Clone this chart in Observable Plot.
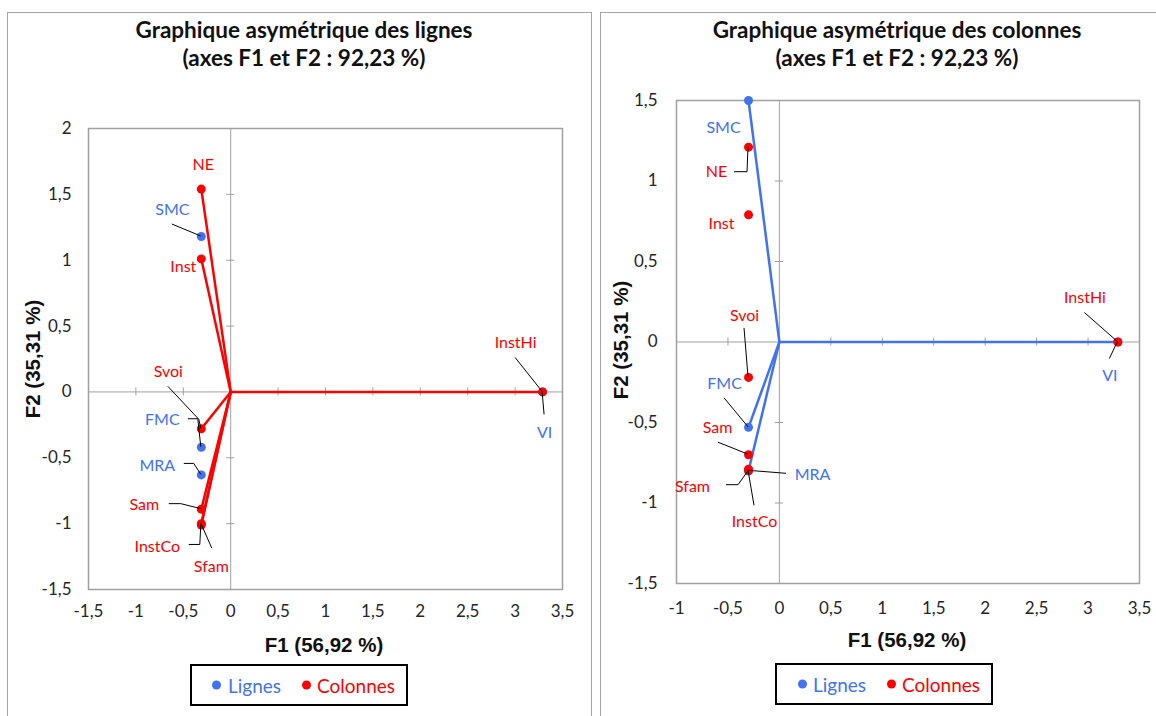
<!DOCTYPE html>
<html>
<head>
<meta charset="utf-8">
<script src="https://cdn.jsdelivr.net/npm/d3@7"></script>
<script src="https://cdn.jsdelivr.net/npm/@observablehq/plot@0.6"></script>
<style>
  html, body { margin: 0; padding: 0; background: #fff; }
  #wrap { position: relative; width: 1156px; height: 716px; overflow: hidden; background: #fff; }
  .panel { position: absolute; border: 1px solid #a6a6a6; box-sizing: border-box; }
  .title { position: absolute; text-align: center; font-family: Lato, "Open Sans", sans-serif; font-weight: 700; font-size: 22.5px; line-height: 28px; color: #111; white-space: nowrap; transform: translateX(-50%); }
  .axtitle { position: absolute; font-family: "Liberation Sans", Arial, sans-serif; font-weight: 700; font-size: 20.5px; color: #111; white-space: nowrap; transform: translate(-50%, -50%); }
  .axtitle.rot { transform: translate(-50%, -50%) rotate(-90deg); }
  .legend { position: absolute; border: 2px solid #000; box-sizing: border-box; background: #fff; font-family: Lato, "Open Sans", sans-serif; font-size: 19px; }
  .legend span { position: absolute; top: 50%; transform: translateY(-50%); white-space: nowrap; }
  .legend .dot { width: 9px; height: 9px; border-radius: 50%; }
  .chart { position: absolute; }
</style>
</head>
<body>
<div id="wrap">
  <div class="panel" style="left:7px; top:12px; width:585px; height:720px;"></div>
  <div class="panel" style="left:600px; top:12px; width:580px; height:720px;"></div>
  <div id="chartL" class="chart" style="left:0px; top:0px;"></div>
  <div id="chartR" class="chart" style="left:600px; top:0px;"></div>
  <div class="title" style="left:304px; top:16px;">Graphique asymétrique des lignes<br>(axes F1 et F2 : 92,23 %)</div>
  <div class="title" style="left:897px; top:16px;">Graphique asymétrique des colonnes<br>(axes F1 et F2 : 92,23 %)</div>
  <div class="axtitle" style="left:324px; top:645px;">F1 (56,92 %)</div>
  <div class="axtitle rot" style="left:33px; top:359px;">F2 (35,31 %)</div>
  <div class="axtitle" style="left:907px; top:640px;">F1 (56,92 %)</div>
  <div class="axtitle rot" style="left:621px; top:340px;">F2 (35,31 %)</div>
  <div class="legend" style="left:190px; top:664px; width:218px; height:42px;">
    <span class="dot" style="left:20px; background:#4272f0;"></span>
    <span style="left:36px; color:#4272f0;">Lignes</span>
    <span class="dot" style="left:110px; background:#ff0000;"></span>
    <span style="left:125px; color:#ff0000;">Colonnes</span>
  </div>
  <div class="legend" style="left:775px; top:663px; width:218px; height:42px;">
    <span class="dot" style="left:21px; background:#4272f0;"></span>
    <span style="left:36px; color:#4272f0;">Lignes</span>
    <span class="dot" style="left:110px; background:#ff0000;"></span>
    <span style="left:125px; color:#ff0000;">Colonnes</span>
  </div>
</div>
<script>
// ---------- DATA ----------
// Rows (Lignes)
const rowNames = ["SMC", "FMC", "MRA", "VI"];
// Columns (Colonnes)
const colNames = ["NE", "Inst", "Svoi", "Sam", "InstCo", "Sfam", "InstHi"];

// Left chart: Graphique asymétrique des lignes
const rowF1_lignes = [-0.31, -0.31, -0.31, 3.29];
const rowF2_lignes = [1.18, -0.42, -0.63, 0];
const colF1_lignes = [-0.31, -0.31, -0.31, -0.31, -0.31, -0.31, 3.29];
const colF2_lignes = [1.54, 1.01, -0.28, -0.89, -1.01, -1.00, 0];

// Right chart: Graphique asymétrique des colonnes
const rowF1_colonnes = [-0.30, -0.30, -0.30, 3.29];
const rowF2_colonnes = [1.50, -0.53, -0.80, 0];
const colF1_colonnes = [-0.30, -0.30, -0.30, -0.30, -0.30, -0.30, 3.29];
const colF2_colonnes = [1.21, 0.79, -0.22, -0.70, -0.80, -0.79, 0];

// Tick values
const xTicksL = [-1.5, -1, -0.5, 0, 0.5, 1, 1.5, 2, 2.5, 3, 3.5];
const yTicksL = [-1.5, -1, -0.5, 0, 0.5, 1, 1.5, 2];
const xTicksR = [-1, -0.5, 0, 0.5, 1, 1.5, 2, 2.5, 3, 3.5];
const yTicksR = [-1.5, -1, -0.5, 0, 0.5, 1, 1.5];

// ---------- STYLE (label placement in pixels) ----------
const BLUE = "#4272f0", RED = "#ff0000";
const labelsL = {
  NE: {dx: 2, dy: -24},
  SMC: {dx: -29, dy: -27, leader: [[-29, -12], [0, 0]]},
  Inst: {dx: -18, dy: 8},
  Svoi: {dx: -33, dy: -57, leader: [[-33, -42], [-2, -9], [0, 0]]},
  FMC: {dx: -39, dy: -27, leader: [[-13, -28], [-3, -28], [0, 0]]},
  MRA: {dx: -44, dy: -9, leader: [[-17, -11], [-7, -11], [0, 0]]},
  Sam: {dx: -57, dy: -4, leader: [[-32, -5], [-20, -5], [0, 0]]},
  InstCo: {dx: -44, dy: 22, leader: [[-12, 20], [-1, 20], [0, 0]]},
  Sfam: {dx: 10, dy: 43, leader: [[11, 25], [0, 0]]},
  InstHi: {dx: -27, dy: -49, leader: [[-27, -34], [0, 0]]},
  VI: {dx: 2, dy: 41, leader: [[2, 23], [0, 0]]}
};
const labelsR = {
  SMC: {dx: -25, dy: 27},
  NE: {dx: -32, dy: 25, leader: [[-14, 25], [-1, 25], [0, 0]]},
  Inst: {dx: -27, dy: 9},
  Svoi: {dx: -4, dy: -62, leader: [[-4, -49], [0, 0]]},
  FMC: {dx: -24, dy: -43, leader: [[-24, -29], [0, 0]]},
  Sam: {dx: -31, dy: -27, leader: [[-30, -12], [0, 0]]},
  MRA: {dx: 64, dy: 4, leader: [[38, 3], [0, 0]]},
  Sfam: {dx: -56, dy: 18, leader: [[-22, 16], [-10, 16], [0, 2]]},
  InstCo: {dx: 6, dy: 51, leader: [[6, 35], [0, 0]]},
  InstHi: {dx: -33, dy: -44, leader: [[-33, -29], [0, 0]]},
  VI: {dx: -8, dy: 34, leader: [[-8, 17], [0, 0]]}
};

const fmt = d => String(d).replace(".", ",");

function makeChart(cfg) {
  const rows = rowNames.map((name, i) => ({name, x: cfg.rowF1[i], y: cfg.rowF2[i], color: BLUE}));
  const cols = colNames.map((name, i) => ({name, x: cfg.colF1[i], y: cfg.colF2[i], color: RED}));
  const vecs = cfg.vectors === "cols" ? cols : rows;
  const vecColor = cfg.vectors === "cols" ? RED : BLUE;
  const all = [...rows, ...cols];

  const marks = [
    Plot.ruleX([0], {stroke: "#a0a0a0", strokeWidth: 1}),
    Plot.ruleY([0], {stroke: "#a0a0a0", strokeWidth: 1}),
    Plot.ruleX(cfg.xTicks.filter(d => d !== 0), {x: d => d, y1: 0, y2: 0, insetTop: -4, insetBottom: -4, stroke: "#a0a0a0"}),
    Plot.ruleY(cfg.yTicks.filter(d => d !== 0), {y: d => d, x1: 0, x2: 0, insetLeft: -4, insetRight: -4, stroke: "#a0a0a0"}),
    Plot.frame({stroke: "#a0a0a0", strokeWidth: 1.5}),
    Plot.link(vecs, {x1: 0, y1: 0, x2: "x", y2: "y", stroke: vecColor, strokeWidth: 2.5}),
    Plot.dot(rows, {x: "x", y: "y", r: 4.5, fill: BLUE}),
    Plot.dot(cols, {x: "x", y: "y", r: 4.5, fill: RED}),
    ...all.map(d => Plot.text([d], {x: "x", y: "y", text: "name", fill: d.color, fontSize: 16,
      dx: cfg.labels[d.name].dx, dy: cfg.labels[d.name].dy}))
  ];

  const chart = Plot.plot({
    width: cfg.width, height: cfg.height,
    marginLeft: cfg.ml, marginRight: cfg.mr, marginTop: cfg.mt, marginBottom: cfg.mb,
    style: {background: "transparent", fontFamily: "Lato, 'Open Sans', sans-serif", fontSize: "17px", color: "#262626", overflow: "visible"},
    x: {domain: cfg.xDomain, ticks: cfg.xTicks, tickFormat: fmt, tickSize: 0, tickPadding: cfg.xPad, label: null},
    y: {domain: cfg.yDomain, ticks: cfg.yTicks, tickFormat: fmt, tickSize: 0, tickPadding: cfg.yPad, label: null},
    marks
  });

  // Leader lines drawn with the plot's own scales
  const sx = chart.scale("x"), sy = chart.scale("y");
  const ax = v => sx.apply ? sx.apply(v) : sx.range[0] + (v - sx.domain[0]) / (sx.domain[1] - sx.domain[0]) * (sx.range[1] - sx.range[0]);
  const ay = v => sy.apply ? sy.apply(v) : sy.range[0] + (v - sy.domain[0]) / (sy.domain[1] - sy.domain[0]) * (sy.range[1] - sy.range[0]);
  const g = d3.select(chart).append("g").attr("fill", "none").attr("stroke", "#000").attr("stroke-width", 1);
  all.forEach(d => {
    const L = cfg.labels[d.name].leader;
    if (!L) return;
    const px = ax(d.x), py = ay(d.y);
    g.append("polyline").attr("points", L.map(([ox, oy]) => `${px + ox},${py + oy}`).join(" "));
  });
  return chart;
}

document.getElementById("chartL").appendChild(makeChart({
  rowF1: rowF1_lignes, rowF2: rowF2_lignes, colF1: colF1_lignes, colF2: colF2_lignes,
  vectors: "cols", labels: labelsL,
  xDomain: [-1.5, 3.5], yDomain: [-1.5, 2], xTicks: xTicksL, yTicks: yTicksL,
  width: 596, height: 640, ml: 88, mr: 34, mt: 128, mb: 51, xPad: 15, yPad: 17
}));
document.getElementById("chartR").appendChild(makeChart({
  rowF1: rowF1_colonnes, rowF2: rowF2_colonnes, colF1: colF1_colonnes, colF2: colF2_colonnes,
  vectors: "rows", labels: labelsR,
  xDomain: [-1, 3.5], yDomain: [-1.5, 1.5], xTicks: xTicksR, yTicks: yTicksR,
  width: 556, height: 640, ml: 76, mr: 17, mt: 100, mb: 57, xPad: 18, yPad: 19
}));
</script>
</body>
</html>
